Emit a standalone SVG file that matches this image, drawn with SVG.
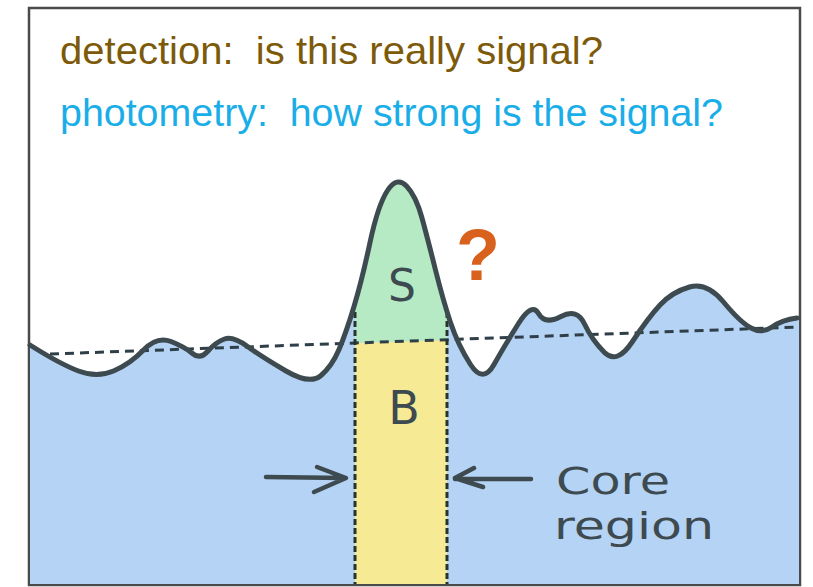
<svg xmlns="http://www.w3.org/2000/svg" width="813" height="587" viewBox="0 0 813 587">
<style>
.curve{fill:none;stroke:#3d4a50;stroke-width:5;stroke-linejoin:round;stroke-linecap:round}
.base{fill:none;stroke:#2f3f48;stroke-width:3;stroke-dasharray:9 6}
.core{fill:none;stroke:#26352c;stroke-width:3;stroke-dasharray:6 3}
.arrow{fill:none;stroke:#3d4a50;stroke-width:4.5;stroke-linecap:round;stroke-linejoin:round}
.hand{font-family:"DejaVu Sans","Liberation Sans",sans-serif;fill:#3d4a50}
.title{font-family:"Liberation Sans",Arial,sans-serif;font-size:39px;white-space:pre}
</style>
<defs>
<clipPath id="coreTop"><polygon points="355,0 447,0 447,340 355,343"/></clipPath>
</defs>
<rect x="0" y="0" width="813" height="587" fill="#ffffff"/>
<g id="frame"><rect x="29" y="8" width="771" height="577" fill="#ffffff" stroke="#4a4a4a" stroke-width="2.5"/></g>
<g id="fills">
<path id="bluefill" fill="#b5d3f4" d="M30,345 Q60,364 78.5,371 Q97,378 113.5,371 Q130,364 143.5,350 Q157,336 171,341.5 Q185,347 192.5,353.5 Q200,360 208,351 Q216,342 224.5,339 Q233,336 247.5,346.5 Q262,357 286,371 Q310,385 321,375.5 Q332,366 339,349.5 Q346,333 354,306.5 Q362,280 370,242.5 Q378,205 387.5,190.5 Q397,176 406.5,186 Q416,196 422,218 Q428,240 435.5,270 Q443,300 450.5,322.5 Q458,345 470.5,364.5 Q483,384 494,364.5 Q505,345 518.5,323.5 Q532,302 538.5,313.5 Q545,325 561,316.5 Q577,308 584.5,324 Q592,340 604.5,352.5 Q617,365 632.5,341.5 Q648,318 660,305 Q672,292 689.5,287 Q707,282 723.5,302 Q740,322 751,328 Q762,334 772,327 Q782,320 799,318 L799,584 L30,584 Z"/>
<path fill="#b6eac4" clip-path="url(#coreTop)" d="M30,345 Q60,364 78.5,371 Q97,378 113.5,371 Q130,364 143.5,350 Q157,336 171,341.5 Q185,347 192.5,353.5 Q200,360 208,351 Q216,342 224.5,339 Q233,336 247.5,346.5 Q262,357 286,371 Q310,385 321,375.5 Q332,366 339,349.5 Q346,333 354,306.5 Q362,280 370,242.5 Q378,205 387.5,190.5 Q397,176 406.5,186 Q416,196 422,218 Q428,240 435.5,270 Q443,300 450.5,322.5 Q458,345 470.5,364.5 Q483,384 494,364.5 L494,584 L30,584 Z"/>
<polygon fill="#f6ea95" points="355,343 447,340 447,584 355,584"/>
</g>
<g id="connectors">
<line class="base" x1="50" y1="354" x2="799" y2="327"/>
<line class="core" x1="355" y1="312" x2="355" y2="584"/>
<line class="core" x1="447" y1="312" x2="447" y2="584"/>
<path class="curve" d="M30,345 Q60,364 78.5,371 Q97,378 113.5,371 Q130,364 143.5,350 Q157,336 171,341.5 Q185,347 192.5,353.5 Q200,360 208,351 Q216,342 224.5,339 Q233,336 247.5,346.5 Q262,357 286,371 Q310,385 321,375.5 Q332,366 339,349.5 Q346,333 354,306.5 Q362,280 370,242.5 Q378,205 387.5,190.5 Q397,176 406.5,186 Q416,196 422,218 Q428,240 435.5,270 Q443,300 450.5,322.5 Q458,345 470.5,364.5 Q483,384 494,364.5 Q505,345 518.5,323.5 Q532,302 538.5,313.5 Q545,325 561,316.5 Q577,308 584.5,324 Q592,340 604.5,352.5 Q617,365 632.5,341.5 Q648,318 660,305 Q672,292 689.5,287 Q707,282 723.5,302 Q740,322 751,328 Q762,334 772,327 Q782,320 797,318"/>
<path id="arrowLeft" class="arrow" d="M266,477 L345,478 M317,467 L346,478 L314,492"/>
<path id="arrowRight" class="arrow" d="M531,479 L455,479 M474,468 L455,478 L483,487"/>
</g>
<g id="titles">
<text class="title" x="60" y="64" fill="#7d5a0a" textLength="543" lengthAdjust="spacingAndGlyphs">detection:  is this really signal?</text>
<text class="title" x="60" y="126" fill="#1aaee8" textLength="663" lengthAdjust="spacingAndGlyphs">photometry:  how strong is the signal?</text>
</g>
<g id="labelS"><text class="hand" x="402" y="301" font-size="44" text-anchor="middle">S</text></g>
<g id="labelB"><text class="hand" x="404" y="424" font-size="46" text-anchor="middle">B</text></g>
<g id="question"><text x="478" y="280" font-family="Liberation Sans, Arial, sans-serif" font-weight="bold" font-size="72" fill="#d9611e" text-anchor="middle">?</text></g>
<g id="coreLabel">
<text class="hand" x="556" y="494" font-size="38" textLength="114" lengthAdjust="spacingAndGlyphs">Core</text>
<text class="hand" x="554" y="539" font-size="38" textLength="160" lengthAdjust="spacingAndGlyphs">region</text>
</g>
</svg>
